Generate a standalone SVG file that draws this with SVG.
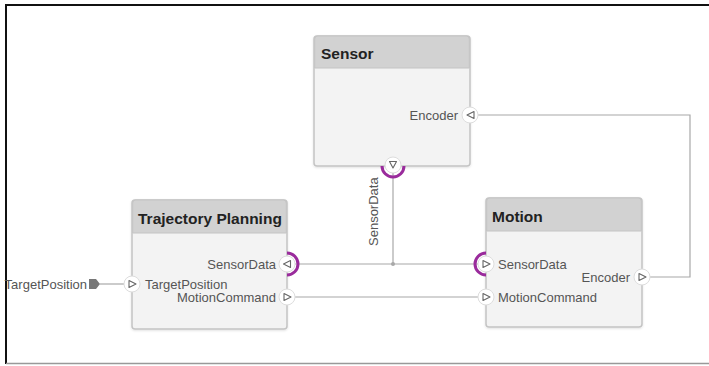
<svg xmlns="http://www.w3.org/2000/svg" width="709" height="366" viewBox="0 0 709 366">
  <defs>
    <style>
      .frame-top { stroke: #111; stroke-width: 2; }
      .frame-bottom { stroke: #999; stroke-width: 1.5; }
      .body { fill: #f3f3f3; stroke: #c4c4c4; stroke-width: 1.5; }
      .head { fill: #d2d2d2; stroke: #c4c4c4; stroke-width: 1; }
      .title { font-family: "Liberation Sans", Arial, sans-serif; font-size: 15.5px; font-weight: bold; fill: #222; }
      .plabel { font-family: "Liberation Sans", Arial, sans-serif; font-size: 13px; fill: #555; }
      .wire { fill: none; stroke: #a8a8a8; stroke-width: 1.2; }
      .port { fill: #fff; stroke: #ddd; stroke-width: 1; }
      .tri { fill: none; stroke: #666; stroke-width: 1.1; stroke-linejoin: round; }
      .ring { fill: none; stroke: #9a2b9c; stroke-width: 3; }
    </style>
    <filter id="shadow" x="-10%" y="-10%" width="120%" height="120%">
      <feDropShadow dx="0" dy="1" stdDeviation="1.2" flood-color="#000" flood-opacity="0.12"/>
    </filter>
  </defs>

  <rect x="0" y="0" width="709" height="366" fill="#fff"/>
  <!-- canvas frame -->
  <line class="frame-top" x1="5" y1="5" x2="709" y2="5"/>
  <line class="frame-top" x1="6" y1="4" x2="6" y2="364"/>
  <line class="frame-bottom" x1="6" y1="363.5" x2="709" y2="363.5"/>

  <!-- connectors -->
  <g id="connectors">
    <polyline class="wire" points="650,277 690,277 690,115 478,115"/>
    <line class="wire" x1="295" y1="264" x2="478" y2="264"/>
    <line class="wire" x1="393" y1="173" x2="393" y2="264"/>
    <circle cx="393" cy="264" r="2" fill="#a8a8a8"/>
    <line class="wire" x1="295" y1="297" x2="478" y2="297"/>
    <line class="wire" x1="100" y1="284" x2="124" y2="284"/>
  </g>

  <!-- root input port -->
  <g id="TargetPositionIn">
    <text class="plabel" x="87" y="288.5" text-anchor="end">TargetPosition</text>
    <path d="M89,279 H96 L100,284 L96,289 H89 Z" fill="#777"/>
  </g>

  <!-- Sensor component -->
  <g id="Sensor">
    <g filter="url(#shadow)">
      <rect class="body" x="314" y="36" width="156" height="130" rx="3"/>
      <path class="head" d="M314.7,68 V39 a3,3 0 0 1 3,-3 H466.3 a3,3 0 0 1 3,3 V68 Z"/>
    </g>
    <text class="title" x="321" y="59">Sensor</text>
    <text class="plabel" x="458" y="119.5" text-anchor="end">Encoder</text>
    <circle class="port" cx="470" cy="115" r="8"/>
    <path class="tri" d="M474,111.5 L467,115 L474,118.5 Z"/>
    <path class="ring" d="M382,166 A11,11 0 0 0 404,166"/>
    <circle class="port" cx="393" cy="165" r="8"/>
    <path class="tri" d="M389.5,161.5 L396.5,161.5 L393,168 Z"/>
    <text class="plabel" transform="translate(378,246) rotate(-90)">SensorData</text>
  </g>

  <!-- Trajectory Planning component -->
  <g id="TrajectoryPlanning">
    <g filter="url(#shadow)">
      <rect class="body" x="132" y="200" width="155" height="129" rx="3"/>
      <path class="head" d="M132.7,233 V203 a3,3 0 0 1 3,-3 H283.3 a3,3 0 0 1 3,3 V233 Z"/>
    </g>
    <text class="title" x="138" y="223.5">Trajectory Planning</text>
    <path class="ring" d="M287,253 A11,11 0 0 1 287,275"/>
    <circle class="port" cx="287" cy="264" r="8"/>
    <path class="tri" d="M290.5,260.5 L283.5,264 L290.5,267.5 Z"/>
    <text class="plabel" x="276" y="268.5" text-anchor="end">SensorData</text>
    <circle class="port" cx="132" cy="284" r="8"/>
    <path class="tri" d="M129,280.5 L136,284 L129,287.5 Z"/>
    <text class="plabel" x="145" y="288.5">TargetPosition</text>
    <circle class="port" cx="287" cy="297" r="8"/>
    <path class="tri" d="M284,293.5 L291,297 L284,300.5 Z"/>
    <text class="plabel" x="276" y="301.5" text-anchor="end">MotionCommand</text>
  </g>

  <!-- Motion component -->
  <g id="Motion">
    <g filter="url(#shadow)">
      <rect class="body" x="486" y="198" width="156" height="129" rx="3"/>
      <path class="head" d="M486.7,231 V201 a3,3 0 0 1 3,-3 H638.3 a3,3 0 0 1 3,3 V231 Z"/>
    </g>
    <text class="title" x="492" y="222">Motion</text>
    <path class="ring" d="M486,253 A11,11 0 0 0 486,275"/>
    <circle class="port" cx="486" cy="264" r="8"/>
    <path class="tri" d="M483,260.5 L490,264 L483,267.5 Z"/>
    <text class="plabel" x="498" y="268.5">SensorData</text>
    <circle class="port" cx="486" cy="297" r="8"/>
    <path class="tri" d="M483,293.5 L490,297 L483,300.5 Z"/>
    <text class="plabel" x="498" y="301.5">MotionCommand</text>
    <circle class="port" cx="642" cy="277" r="8"/>
    <path class="tri" d="M639,273.5 L646,277 L639,280.5 Z"/>
    <text class="plabel" x="630" y="281.5" text-anchor="end">Encoder</text>
  </g>
</svg>
